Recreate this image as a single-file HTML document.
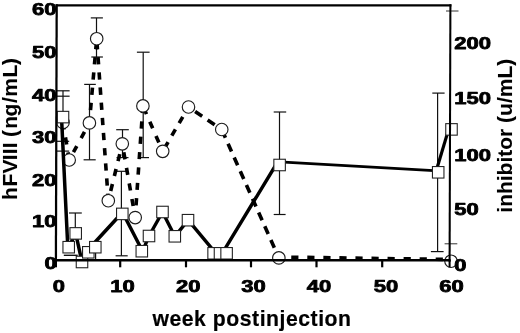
<!DOCTYPE html>
<html lang="en"><head><meta charset="utf-8"><title>hFVIII and inhibitor vs week postinjection</title>
<style>html,body{margin:0;padding:0;background:#fff;}svg{display:block;}</style></head>
<body>
<svg width="520" height="333" viewBox="0 0 520 333">
<rect width="520" height="333" fill="#fff"/>
<g id="errorbars">
<line x1="89.5" y1="84.4" x2="89.5" y2="159.8" stroke="#111" stroke-width="1.2"/>
<line x1="84.2" y1="84.4" x2="95.8" y2="84.4" stroke="#111" stroke-width="1.2"/>
<line x1="83.6" y1="159.8" x2="95.7" y2="159.8" stroke="#111" stroke-width="1.2"/>
<line x1="96.5" y1="17.9" x2="96.5" y2="57.0" stroke="#111" stroke-width="1.2"/>
<line x1="90.8" y1="17.9" x2="102.9" y2="17.9" stroke="#111" stroke-width="1.2"/>
<line x1="91.3" y1="57.0" x2="102.9" y2="57.0" stroke="#111" stroke-width="1.2"/>
<line x1="122.5" y1="129.7" x2="122.5" y2="157.6" stroke="#111" stroke-width="1.2"/>
<line x1="116.2" y1="129.7" x2="128.8" y2="129.7" stroke="#111" stroke-width="1.2"/>
<line x1="116.5" y1="157.6" x2="128.5" y2="157.6" stroke="#111" stroke-width="1.2"/>
<line x1="143.2" y1="52.2" x2="143.2" y2="157.6" stroke="#111" stroke-width="1.2"/>
<line x1="136.9" y1="52.2" x2="149.6" y2="52.2" stroke="#111" stroke-width="1.2"/>
<line x1="138.4" y1="157.6" x2="149.0" y2="157.6" stroke="#111" stroke-width="1.2"/>
<line x1="63.0" y1="90.8" x2="63.0" y2="151.1" stroke="#111" stroke-width="1.2"/>
<line x1="57" y1="90.8" x2="69.6" y2="90.8" stroke="#111" stroke-width="1.2"/>
<line x1="57" y1="151.1" x2="69.2" y2="151.1" stroke="#111" stroke-width="1.2"/>
<line x1="57" y1="96.2" x2="69.6" y2="96.2" stroke="#111" stroke-width="1.2"/>
<line x1="57" y1="141.3" x2="69.2" y2="141.3" stroke="#111" stroke-width="1.2"/>
<line x1="75.3" y1="213.0" x2="75.3" y2="240" stroke="#111" stroke-width="1.2"/>
<line x1="69" y1="213.0" x2="81.8" y2="213.0" stroke="#111" stroke-width="1.2"/>
<line x1="63.8" y1="255.3" x2="77.7" y2="255.3" stroke="#111" stroke-width="1.4"/>
<line x1="121.4" y1="171.3" x2="121.4" y2="255.8" stroke="#111" stroke-width="1.2"/>
<line x1="116" y1="171.3" x2="126.8" y2="171.3" stroke="#111" stroke-width="1.2"/>
<line x1="115.6" y1="255.8" x2="127.7" y2="255.8" stroke="#111" stroke-width="1.2"/>
<line x1="279.5" y1="112.0" x2="279.5" y2="214.5" stroke="#111" stroke-width="1.2"/>
<line x1="273.7" y1="112.0" x2="286.2" y2="112.0" stroke="#111" stroke-width="1.2"/>
<line x1="273.7" y1="214.5" x2="285.6" y2="214.5" stroke="#111" stroke-width="1.2"/>
<line x1="437.6" y1="93.1" x2="437.6" y2="251.6" stroke="#111" stroke-width="1.2"/>
<line x1="432.3" y1="93.1" x2="444.6" y2="93.1" stroke="#111" stroke-width="1.2"/>
<line x1="430.9" y1="251.6" x2="443.6" y2="251.6" stroke="#111" stroke-width="1.2"/>
<line x1="446" y1="11" x2="458.5" y2="11" stroke="#333" stroke-width="1"/>
<line x1="444.6" y1="243.8" x2="457.3" y2="243.8" stroke="#333" stroke-width="1"/>
<line x1="95.6" y1="253" x2="95.6" y2="260" stroke="#111" stroke-width="1.2"/>
</g>
<g id="dashed" stroke="#000" stroke-width="3.6" fill="none">
<line x1="63.0" y1="122.4" x2="69.2" y2="160.0" stroke-dasharray="7.2 8.0" stroke-dashoffset="-0.0"/>
<line x1="69.2" y1="160.0" x2="89.4" y2="122.9" stroke-dasharray="7.0 9.1" stroke-dashoffset="-8.9"/>
<line x1="96.7" y1="38.7" x2="89.4" y2="122.9" stroke-dasharray="7.3 7.95" stroke-dashoffset="-3.3"/>
<line x1="96.7" y1="38.7" x2="108.3" y2="200.7" stroke-dasharray="7.3 7.9" stroke-dashoffset="-3.3"/>
<line x1="108.3" y1="200.7" x2="122.3" y2="143.8" stroke-dasharray="7.2 8.2" stroke-dashoffset="-10.0"/>
<line x1="122.3" y1="143.8" x2="135.2" y2="217.6" stroke-dasharray="7.2 8.6" stroke-dashoffset="-8.6"/>
<line x1="135.2" y1="217.6" x2="142.9" y2="105.9" stroke-dasharray="7.2 8.2" stroke-dashoffset="-12.3"/>
<line x1="142.9" y1="105.9" x2="162.7" y2="151.3" stroke-dasharray="7.2 8.3" stroke-dashoffset="-1.75"/>
<line x1="162.7" y1="151.3" x2="188.5" y2="107.0" stroke-dasharray="7.2 7.4" stroke-dashoffset="-3.5"/>
<line x1="188.5" y1="107.0" x2="221.75" y2="129.5" stroke-dasharray="8.5 6.6" stroke-dashoffset="-8.0"/>
<line x1="221.75" y1="129.5" x2="278.85" y2="257.9" stroke-dasharray="8.5 6.55" stroke-dashoffset="-0.5"/>
<line x1="278.85" y1="257.0" x2="451.0" y2="259.5" stroke-dasharray="7.2 8.85" stroke-dashoffset="-12.4"/>
</g>
<circle cx="63.0" cy="122.4" r="6.25" fill="#fff" stroke="#1c1c1c" stroke-width="1.15"/>
<circle cx="69.2" cy="160.0" r="6.25" fill="#fff" stroke="#1c1c1c" stroke-width="1.15"/>
<circle cx="89.4" cy="122.9" r="6.25" fill="#fff" stroke="#1c1c1c" stroke-width="1.15"/>
<circle cx="96.7" cy="38.7" r="6.25" fill="#fff" stroke="#1c1c1c" stroke-width="1.15"/>
<circle cx="108.3" cy="200.7" r="6.25" fill="#fff" stroke="#1c1c1c" stroke-width="1.15"/>
<circle cx="122.3" cy="143.8" r="6.25" fill="#fff" stroke="#1c1c1c" stroke-width="1.15"/>
<circle cx="135.2" cy="217.6" r="6.25" fill="#fff" stroke="#1c1c1c" stroke-width="1.15"/>
<circle cx="142.9" cy="105.9" r="6.25" fill="#fff" stroke="#1c1c1c" stroke-width="1.15"/>
<circle cx="162.7" cy="151.3" r="6.25" fill="#fff" stroke="#1c1c1c" stroke-width="1.15"/>
<circle cx="188.5" cy="107.0" r="6.25" fill="#fff" stroke="#1c1c1c" stroke-width="1.15"/>
<circle cx="221.75" cy="129.5" r="6.25" fill="#fff" stroke="#1c1c1c" stroke-width="1.15"/>
<circle cx="278.85" cy="257.9" r="6.25" fill="#fff" stroke="#1c1c1c" stroke-width="1.15"/>
<circle cx="451.0" cy="261.2" r="6.25" fill="#fff" stroke="#1c1c1c" stroke-width="1.15"/>
<g id="solid" stroke="#000" fill="none" stroke-linejoin="round">
<polyline points="61.5,117.1 67.6,243.0 68.7,247.2 75.7,233.4 82.0,262.0 88.3,252.3 91.5,246.0 120.5,214.5" stroke-width="3.5"/>
<polyline points="123.3,213.9 142.6,251.2 149.0,236.0 162.5,212.0 174.8,236.3 188.2,220.1 215.9,253.3 222.2,253.3 275.8,165.0" stroke-width="3.4"/>
<polyline points="279.6,161.9 438.2,170.8" stroke-width="2.7"/>
<polyline points="435.8,172.3 448.6,129.4" stroke-width="3.2"/>
</g>
<rect x="57.25" y="111.35" width="11.5" height="11.5" fill="#fff" stroke="#222" stroke-width="1.1"/>
<rect x="62.95" y="241.45" width="11.5" height="11.5" fill="#fff" stroke="#222" stroke-width="1.1"/>
<rect x="69.95" y="227.65" width="11.5" height="11.5" fill="#fff" stroke="#222" stroke-width="1.1"/>
<rect x="76.25" y="256.25" width="11.5" height="11.5" fill="#fff" stroke="#222" stroke-width="1.1"/>
<rect x="82.55" y="246.55" width="11.5" height="11.5" fill="#fff" stroke="#222" stroke-width="1.1"/>
<rect x="89.55" y="241.45" width="11.5" height="11.5" fill="#fff" stroke="#222" stroke-width="1.1"/>
<rect x="116.55" y="208.15" width="11.5" height="11.5" fill="#fff" stroke="#222" stroke-width="1.1"/>
<rect x="136.05" y="245.45" width="11.5" height="11.5" fill="#fff" stroke="#222" stroke-width="1.1"/>
<rect x="143.25" y="230.25" width="11.5" height="11.5" fill="#fff" stroke="#222" stroke-width="1.1"/>
<rect x="156.75" y="206.25" width="11.5" height="11.5" fill="#fff" stroke="#222" stroke-width="1.1"/>
<rect x="169.05" y="230.55" width="11.5" height="11.5" fill="#fff" stroke="#222" stroke-width="1.1"/>
<rect x="182.25" y="214.45" width="11.5" height="11.5" fill="#fff" stroke="#222" stroke-width="1.1"/>
<rect x="207.85" y="247.55" width="11.5" height="11.5" fill="#fff" stroke="#222" stroke-width="1.1"/>
<rect x="214.25" y="247.55" width="11.5" height="11.5" fill="#fff" stroke="#222" stroke-width="1.1"/>
<rect x="220.85" y="247.55" width="11.5" height="11.5" fill="#fff" stroke="#222" stroke-width="1.1"/>
<rect x="273.85" y="159.25" width="11.5" height="11.5" fill="#fff" stroke="#222" stroke-width="1.1"/>
<rect x="432.45" y="166.55" width="11.5" height="11.5" fill="#fff" stroke="#222" stroke-width="1.1"/>
<rect x="445.75" y="123.65" width="11.5" height="11.5" fill="#fff" stroke="#222" stroke-width="1.1"/>
<g id="frame" stroke="#000" fill="none">
<line x1="56.7" y1="4.3" x2="55.9" y2="261.4" stroke-width="2.25"/>
<line x1="55.6" y1="5.4" x2="451.4" y2="5.4" stroke-width="2.1"/>
<line x1="450.4" y1="4.3" x2="449.6" y2="261.4" stroke-width="2.05"/>
<line x1="54.8" y1="260.3" x2="450.6" y2="260.3" stroke-width="2.4"/>
<line x1="55.9" y1="260" x2="55.9" y2="267.3" stroke-width="2.25"/>
<line x1="449.6" y1="260" x2="449.6" y2="267.3" stroke-width="2.05"/>
<line x1="120.2" y1="260" x2="120.2" y2="267.3" stroke-width="2.2"/>
<line x1="186.0" y1="260" x2="186.0" y2="267.3" stroke-width="2.2"/>
<line x1="251.0" y1="260" x2="251.0" y2="267.3" stroke-width="2.2"/>
<line x1="316.5" y1="260" x2="316.5" y2="267.3" stroke-width="2.2"/>
<line x1="382.2" y1="260" x2="382.2" y2="267.3" stroke-width="2.2"/>
</g>
<g font-family="'Liberation Sans', sans-serif" font-weight="bold" fill="#000" stroke="#000" stroke-width="0.75" stroke-linejoin="round">
<text x="56.6" y="15.3" font-size="16.2" text-anchor="end" textLength="24.5" lengthAdjust="spacingAndGlyphs">60</text>
<text x="56.6" y="58.3" font-size="16.2" text-anchor="end" textLength="24.5" lengthAdjust="spacingAndGlyphs">50</text>
<text x="56.6" y="100.6" font-size="16.2" text-anchor="end" textLength="24.5" lengthAdjust="spacingAndGlyphs">40</text>
<text x="56.6" y="143.3" font-size="16.2" text-anchor="end" textLength="24.5" lengthAdjust="spacingAndGlyphs">30</text>
<text x="56.6" y="185.7" font-size="16.2" text-anchor="end" textLength="24.5" lengthAdjust="spacingAndGlyphs">20</text>
<text x="56.6" y="227.2" font-size="16.2" text-anchor="end" textLength="24.5" lengthAdjust="spacingAndGlyphs">10</text>
<text x="56.6" y="269.3" font-size="16.2" text-anchor="end" textLength="12.2" lengthAdjust="spacingAndGlyphs">0</text>
<text x="454.3" y="49.0" font-size="16.2" textLength="36.8" lengthAdjust="spacingAndGlyphs">200</text>
<text x="454.3" y="104.4" font-size="16.2" textLength="36.8" lengthAdjust="spacingAndGlyphs">150</text>
<text x="454.3" y="160.5" font-size="16.2" textLength="36.8" lengthAdjust="spacingAndGlyphs">100</text>
<text x="454.3" y="215.4" font-size="16.2" textLength="24.5" lengthAdjust="spacingAndGlyphs">50</text>
<text x="454.3" y="270.7" font-size="16.2" textLength="12.2" lengthAdjust="spacingAndGlyphs">0</text>
<text x="58.8" y="292.4" font-size="16.2" text-anchor="middle" textLength="12.2" lengthAdjust="spacingAndGlyphs">0</text>
<text x="122.6" y="292.4" font-size="16.2" text-anchor="middle" textLength="24.5" lengthAdjust="spacingAndGlyphs">10</text>
<text x="188.3" y="292.4" font-size="16.2" text-anchor="middle" textLength="24.5" lengthAdjust="spacingAndGlyphs">20</text>
<text x="253.6" y="292.4" font-size="16.2" text-anchor="middle" textLength="24.5" lengthAdjust="spacingAndGlyphs">30</text>
<text x="319.0" y="292.4" font-size="16.2" text-anchor="middle" textLength="24.5" lengthAdjust="spacingAndGlyphs">40</text>
<text x="385.9" y="292.4" font-size="16.2" text-anchor="middle" textLength="24.5" lengthAdjust="spacingAndGlyphs">50</text>
<text x="451.5" y="292.4" font-size="16.2" text-anchor="middle" textLength="24.5" lengthAdjust="spacingAndGlyphs">60</text>
<text x="152.4" y="326.1" font-size="21.2" stroke-width="0.2" textLength="198.6" lengthAdjust="spacing">week postinjection</text>
<text transform="translate(512.4 212.7) rotate(-90)" font-size="21" stroke-width="0.1">inhibitor (u/mL)</text>
<text transform="translate(17.2 200) rotate(-90)" font-size="21" stroke-width="0.1" x="0.00 13.42 26.50 39.78 45.78 51.78 57.39 62.99 71.15 83.61 96.98 103.32 122.56 134.92">hFVIII (ng/mL)</text>
</g>
</svg>
</body></html>
